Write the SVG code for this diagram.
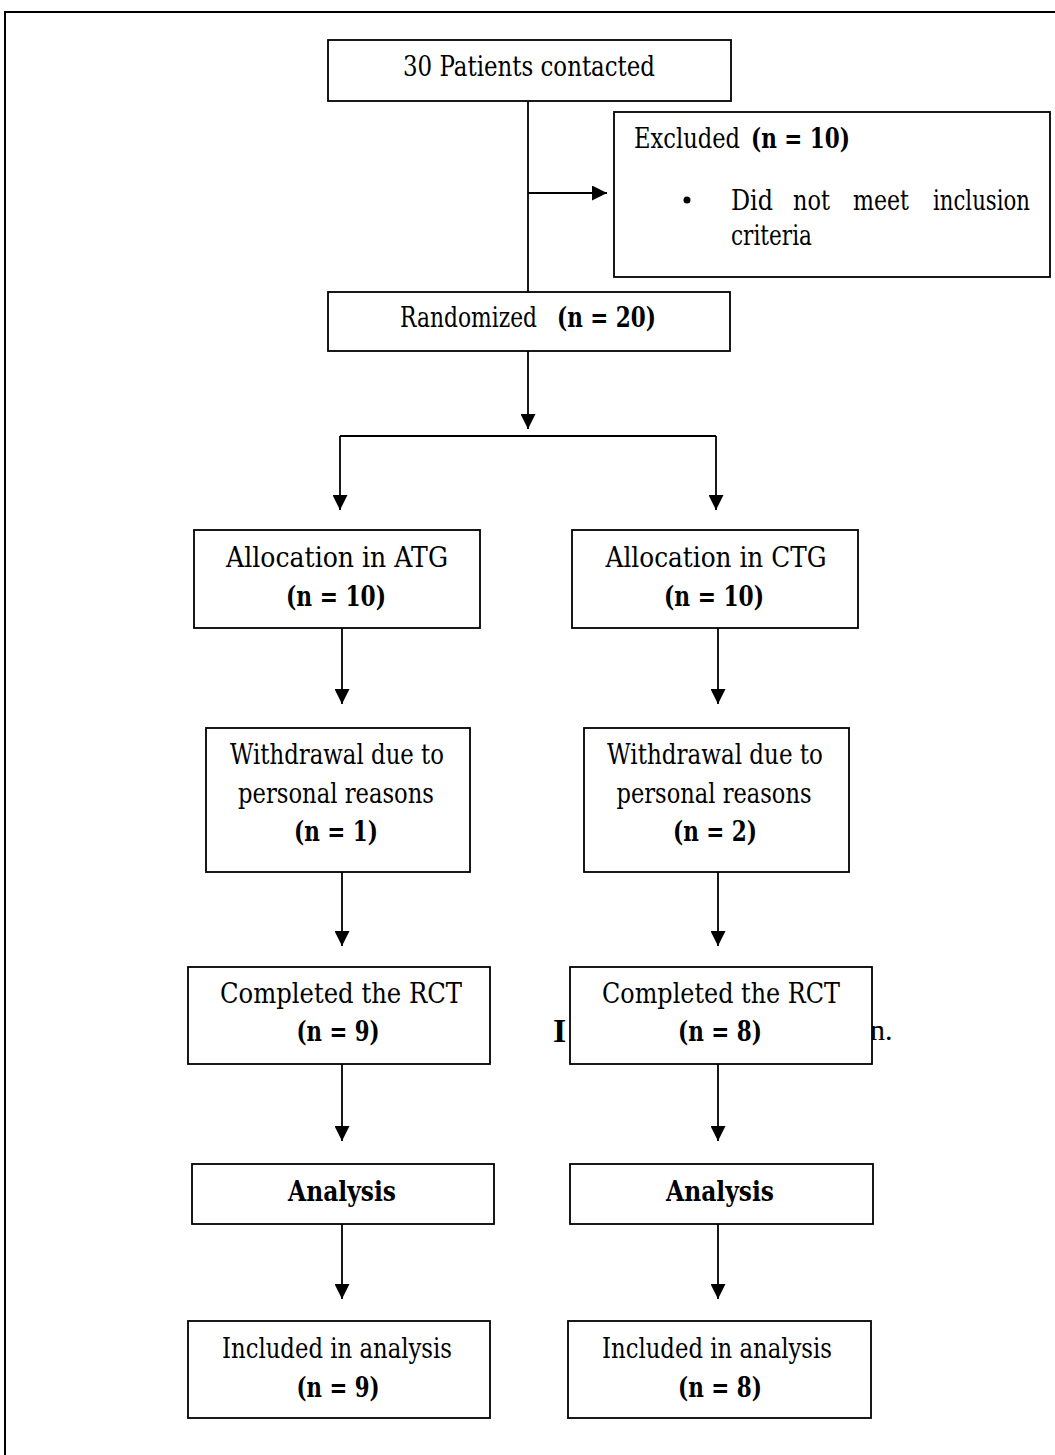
<svg xmlns="http://www.w3.org/2000/svg" width="1055" height="1455" viewBox="0 0 1055 1455">
<style>
.box{fill:#fff;stroke:#000;stroke-width:1.8}
.t{font-family:"DejaVu Serif","Liberation Serif",serif;font-size:27px;fill:#000;text-anchor:middle}
.s{text-anchor:start}
.b{font-weight:bold}
.ln{fill:none;stroke:#000;stroke-width:1.8}
</style>
<defs>
<marker id="ah" viewBox="0 0 10 10" refX="10" refY="5" markerWidth="15" markerHeight="15" markerUnits="userSpaceOnUse" orient="auto">
<path d="M0,0 L10,5 L0,10 Z" fill="#000"/>
</marker>
</defs>
<rect width="1055" height="1455" fill="#fff"/>
<path d="M5,1455 V12 H1055" fill="none" stroke="#000" stroke-width="2"/>
<g id="stray">
<text class="t s b" x="553" y="1042" style="font-family:'Liberation Serif',serif;font-size:34px">I</text>
<text class="t s" x="870" y="1040" style="font-family:'Liberation Serif',serif;font-size:30px">n.</text>
</g>
<g id="connectors">
<path class="ln" d="M528,101 V292"/>
<path class="ln" d="M528,193 H607" marker-end="url(#ah)"/>
<path class="ln" d="M528,351 V429" marker-end="url(#ah)"/>
<path class="ln" d="M340,436 H716"/>
<path class="ln" d="M340,436 V510" marker-end="url(#ah)"/>
<path class="ln" d="M716,436 V510" marker-end="url(#ah)"/>
<path class="ln" d="M342,628 V704" marker-end="url(#ah)"/>
<path class="ln" d="M718,628 V704" marker-end="url(#ah)"/>
<path class="ln" d="M342,872 V946" marker-end="url(#ah)"/>
<path class="ln" d="M718,872 V946" marker-end="url(#ah)"/>
<path class="ln" d="M342,1064 V1141" marker-end="url(#ah)"/>
<path class="ln" d="M718,1064 V1141" marker-end="url(#ah)"/>
<path class="ln" d="M342,1224 V1299" marker-end="url(#ah)"/>
<path class="ln" d="M718,1224 V1299" marker-end="url(#ah)"/>
</g>
<g id="contacted">
<rect class="box" x="328" y="40" width="403" height="61"/>
<text class="t" x="529" y="76" textLength="252" lengthAdjust="spacingAndGlyphs">30 Patients contacted</text>
</g>
<g id="excluded">
<rect class="box" x="614" y="112" width="436" height="165"/>
<text class="t s" x="634" y="148" textLength="106" lengthAdjust="spacingAndGlyphs">Excluded</text>
<text class="t s b" x="751" y="148" textLength="99" lengthAdjust="spacingAndGlyphs">(n = 10)</text>
<circle cx="687" cy="200" r="3.5" fill="#000"/>
<text class="t s" x="731" y="210" textLength="42" lengthAdjust="spacingAndGlyphs">Did</text>
<text class="t s" x="793" y="210" textLength="37" lengthAdjust="spacingAndGlyphs">not</text>
<text class="t s" x="853" y="210" textLength="56" lengthAdjust="spacingAndGlyphs">meet</text>
<text class="t s" x="933" y="210" textLength="97" lengthAdjust="spacingAndGlyphs">inclusion</text>
<text class="t s" x="731" y="245" textLength="81" lengthAdjust="spacingAndGlyphs">criteria</text>
</g>
<g id="randomized">
<rect class="box" x="328" y="292" width="402" height="59"/>
<text class="t s" x="400" y="327" textLength="137" lengthAdjust="spacingAndGlyphs">Randomized</text>
<text class="t s b" x="557" y="327" textLength="99" lengthAdjust="spacingAndGlyphs">(n = 20)</text>
</g>
<g id="alloc-atg">
<rect class="box" x="194" y="530" width="286" height="98"/>
<text class="t" x="337" y="567" textLength="222" lengthAdjust="spacingAndGlyphs">Allocation in ATG</text>
<text class="t b" x="336" y="606" textLength="100" lengthAdjust="spacingAndGlyphs">(n = 10)</text>
</g>
<g id="alloc-ctg">
<rect class="box" x="572" y="530" width="286" height="98"/>
<text class="t" x="716" y="567" textLength="221" lengthAdjust="spacingAndGlyphs">Allocation in CTG</text>
<text class="t b" x="714" y="606" textLength="100" lengthAdjust="spacingAndGlyphs">(n = 10)</text>
</g>
<g id="withdraw-atg">
<rect class="box" x="206" y="728" width="264" height="144"/>
<text class="t" x="337" y="764" textLength="214" lengthAdjust="spacingAndGlyphs">Withdrawal due to</text>
<text class="t" x="336" y="803" textLength="196" lengthAdjust="spacingAndGlyphs">personal reasons</text>
<text class="t b" x="336" y="841" textLength="84" lengthAdjust="spacingAndGlyphs">(n = 1)</text>
</g>
<g id="withdraw-ctg">
<rect class="box" x="584" y="728" width="265" height="144"/>
<text class="t" x="715" y="764" textLength="216" lengthAdjust="spacingAndGlyphs">Withdrawal due to</text>
<text class="t" x="714" y="803" textLength="195" lengthAdjust="spacingAndGlyphs">personal reasons</text>
<text class="t b" x="715" y="841" textLength="84" lengthAdjust="spacingAndGlyphs">(n = 2)</text>
</g>
<g id="completed-atg">
<rect class="box" x="188" y="967" width="302" height="97"/>
<text class="t" x="341" y="1003" textLength="242" lengthAdjust="spacingAndGlyphs">Completed the RCT</text>
<text class="t b" x="338" y="1041" textLength="83" lengthAdjust="spacingAndGlyphs">(n = 9)</text>
</g>
<g id="completed-ctg">
<rect class="box" x="570" y="967" width="302" height="97"/>
<text class="t" x="721" y="1003" textLength="238" lengthAdjust="spacingAndGlyphs">Completed the RCT</text>
<text class="t b" x="720" y="1041" textLength="84" lengthAdjust="spacingAndGlyphs">(n = 8)</text>
</g>
<g id="analysis-atg">
<rect class="box" x="192" y="1164" width="302" height="60"/>
<text class="t b" x="342" y="1201" textLength="108" lengthAdjust="spacingAndGlyphs">Analysis</text>
</g>
<g id="analysis-ctg">
<rect class="box" x="570" y="1164" width="303" height="60"/>
<text class="t b" x="720" y="1201" textLength="108" lengthAdjust="spacingAndGlyphs">Analysis</text>
</g>
<g id="included-atg">
<rect class="box" x="188" y="1321" width="302" height="97"/>
<text class="t" x="337" y="1358" textLength="230" lengthAdjust="spacingAndGlyphs">Included in analysis</text>
<text class="t b" x="338" y="1397" textLength="83" lengthAdjust="spacingAndGlyphs">(n = 9)</text>
</g>
<g id="included-ctg">
<rect class="box" x="568" y="1321" width="303" height="97"/>
<text class="t" x="717" y="1358" textLength="230" lengthAdjust="spacingAndGlyphs">Included in analysis</text>
<text class="t b" x="720" y="1397" textLength="84" lengthAdjust="spacingAndGlyphs">(n = 8)</text>
</g>
</svg>
